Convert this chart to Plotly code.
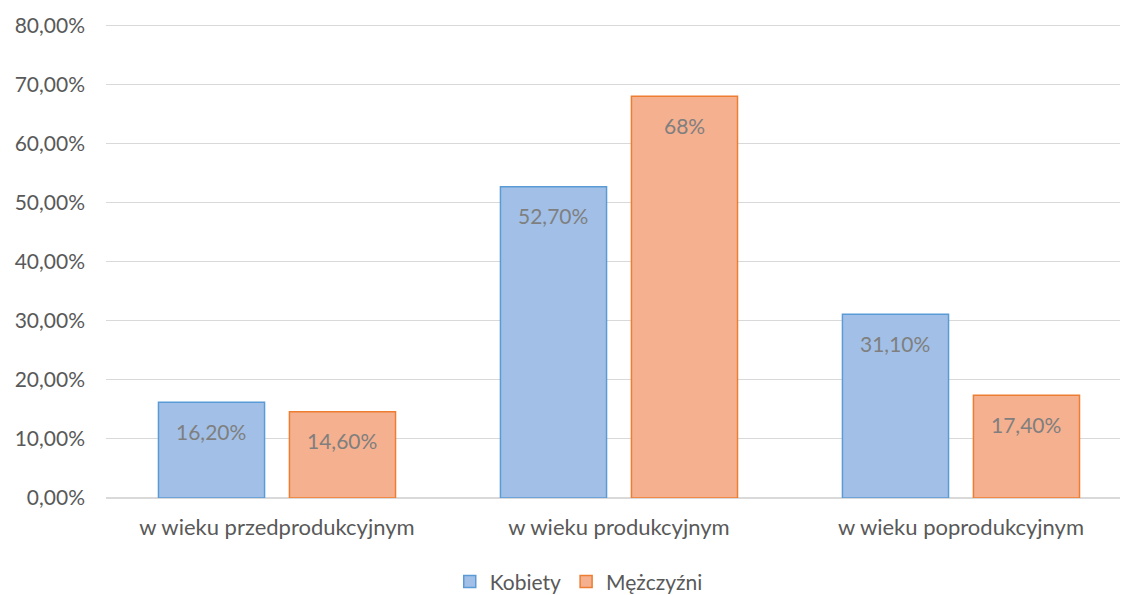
import plotly.graph_objects as go

categories = ["w wieku przedprodukcyjnym", "w wieku produkcyjnym", "w wieku poprodukcyjnym"]
kobiety = [16.2, 52.7, 31.1]
mezczyzni = [14.6, 68.0, 17.4]
kobiety_labels = ["16,20%", "52,70%", "31,10%"]
mezczyzni_labels = ["14,60%", "68%", "17,40%"]
y_ticks = [0, 10, 20, 30, 40, 50, 60, 70, 80]
y_tick_labels = ["0,00%", "10,00%", "20,00%", "30,00%", "40,00%", "50,00%", "60,00%", "70,00%", "80,00%"]

FONT = "Lato"
GRAY = "#595959"
LABEL_GRAY = "#7F7F7F"

fig = go.Figure()
fig.add_trace(go.Bar(
    x=categories, y=kobiety, name="Kobiety",
    marker=dict(color="#A2C0E7", line=dict(color="#5B9BD5", width=1.5)),
    hoverinfo="skip"
))
fig.add_trace(go.Bar(
    x=categories, y=mezczyzni, name="Mężczyźni",
    marker=dict(color="#F5B08F", line=dict(color="#ED7D31", width=1.5)),
    hoverinfo="skip"
))

# etykiety wartości wewnątrz słupków (przesunięte do środka każdego słupka)
shift = 65.5
for cat, val, lab in zip(categories, kobiety, kobiety_labels):
    fig.add_annotation(x=cat, y=val, text=lab, showarrow=False, xshift=-shift, yshift=-29,
                       yanchor="middle", font=dict(family=FONT, size=21, color=LABEL_GRAY))
for cat, val, lab in zip(categories, mezczyzni, mezczyzni_labels):
    fig.add_annotation(x=cat, y=val, text=lab, showarrow=False, xshift=shift, yshift=-29,
                       yanchor="middle", font=dict(family=FONT, size=21, color=LABEL_GRAY))

fig.update_layout(
    width=1121, height=595,
    margin=dict(l=106, r=1, t=23, b=97, autoexpand=False),
    plot_bgcolor="white", paper_bgcolor="white",
    barmode="group", bargap=0.234, bargroupgap=0.19,
    font=dict(family=FONT, size=21, color=GRAY),
    showlegend=True,
    legend=dict(orientation="h", x=0.339, xanchor="left",
                yref="container", y=0.022, yanchor="middle",
                font=dict(family=FONT, size=21, color=GRAY), itemwidth=30),
    xaxis=dict(showgrid=False, showline=False, ticks="", automargin=False,
               range=[-0.5, 2.465], ticklabelstandoff=14,
               tickfont=dict(family=FONT, size=22, color=GRAY)),
    yaxis=dict(range=[0, 80.4], tickvals=y_ticks, ticktext=y_tick_labels,
               showgrid=True, gridcolor="#D9D9D9", gridwidth=1, automargin=False,
               zeroline=True, zerolinecolor="#D9D9D9", zerolinewidth=1.5,
               ticklabelstandoff=20,
               tickfont=dict(family=FONT, size=21, color=GRAY)),
)

fig.write_html("out.html", config={"displayModeBar": False},
               post_script="document.body.style.margin='0';")
